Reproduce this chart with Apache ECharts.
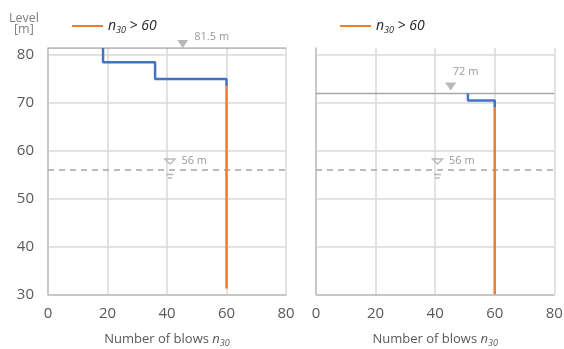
<!DOCTYPE html>
<html><head><meta charset="utf-8">
<script src="https://cdn.jsdelivr.net/npm/echarts@6/dist/echarts.min.js"></script>
<style>html,body{margin:0;padding:0;background:#fff}#c{width:564px;height:349px}</style>
</head><body><div id="c"></div>
<script>
// ---- data ----
const xMin = 0, xMax = 80, xStep = 20;
const yMin = 30, yMax = 81.5, yStep = 10;
const legendLabel = 'n30 > 60';

const leftStepX = [18.5, 18.5, 36, 36, 60, 60];
const leftStepY = [81.5, 78.5, 78.5, 75, 75, 73.5];
const leftOrangeX = [60, 60];
const leftOrangeY = [73.5, 31.2];

const rightStepX = [51, 51, 60, 60];
const rightStepY = [72, 70.5, 70.5, 69];
const rightOrangeX = [60, 60];
const rightOrangeY = [69, 30];

const groundLevels = [81.5, 72];
const groundLabels = ['81.5 m', '72 m'];
const groundMarkerX = [45.3, 45.2];
const waterLevel = 56;
const waterLabel = '56 m';
const waterMarkerX = [41, 40.8];

// ---- helpers ----
const zip = (xs, ys) => xs.map((x, i) => [x, ys[i]]);
const GRAY_TXT = '#595959';
const FONT = '"Open Sans", "DejaVu Sans", sans-serif';
const waterPath = 'path://M0,0 L10,0 L5,5 Z M1.5,15.5 L8.5,15.5 M3,19 L7,19';

const chart = echarts.init(document.getElementById('c'), null, {renderer: 'canvas'});

function xAxisCfg(gi) {
  return {
    type: 'value', gridIndex: gi, min: xMin, max: xMax, interval: xStep,
    axisLine: {show: true, lineStyle: {color: '#bfbfbf', width: 1.5}},
    axisTick: {show: false},
    axisLabel: {color: GRAY_TXT, fontSize: 15, margin: 12, fontFamily: FONT},
    splitLine: {show: true, lineStyle: {color: '#d9d9d9', width: 1.5}},
    name: '{a|Number of blows }{i|n}{s|30}',
    nameLocation: 'middle', nameGap: 36,
    nameTextStyle: {
      fontFamily: FONT,
      rich: {
        a: {fontSize: 13, color: GRAY_TXT, fontFamily: FONT, lineHeight: 18},
        i: {fontSize: 13, color: GRAY_TXT, fontStyle: 'italic', fontFamily: FONT, lineHeight: 18},
        s: {fontSize: 9, color: GRAY_TXT, fontStyle: 'italic', fontFamily: FONT, verticalAlign: 'bottom', lineHeight: 18}
      }
    }
  };
}
function yAxisCfg(gi, showLabels) {
  return {
    type: 'value', gridIndex: gi, min: yMin, max: yMax, interval: yStep,
    axisLine: {show: true, lineStyle: {color: '#bfbfbf', width: 1.5}},
    axisTick: {show: false},
    axisLabel: {show: showLabels, color: GRAY_TXT, fontSize: 15, margin: 14, fontFamily: FONT, showMaxLabel: false},
    splitLine: {show: true, showMaxLine: false, lineStyle: {color: '#d9d9d9', width: 1.5}}
  };
}
function legendCfg(left) {
  return {
    left: left, top: 14, itemWidth: 31, itemHeight: 2, icon: 'rect',
    data: [legendLabel], selectedMode: false,
    formatter: () => '{i|n}{s|30}{i| > 60}',
    textStyle: {
      rich: {
        i: {fontSize: 14, fontStyle: 'italic', color: '#262626', fontFamily: FONT, lineHeight: 18},
        s: {fontSize: 9, fontStyle: 'italic', color: '#262626', fontFamily: FONT, verticalAlign: 'bottom', lineHeight: 18}
      }
    }
  };
}
function lineSeries(gi, data, color, width, type, name, z) {
  return {
    type: 'line', name: name, xAxisIndex: gi, yAxisIndex: gi, data: data,
    showSymbol: false, symbol: 'none', silent: true, animation: false, z: z || 3,
    lineStyle: {color: color, width: width, type: type || 'solid'},
    itemStyle: {color: color}
  };
}
function groundMarker(gi, lblPos, lblOffset, symOffset) {
  return {
    type: 'scatter', xAxisIndex: gi, yAxisIndex: gi, silent: true, animation: false, z: 5,
    data: [[groundMarkerX[gi], groundLevels[gi]]],
    symbol: 'triangle', symbolRotate: 180, symbolSize: [11, 8], symbolOffset: symOffset,
    itemStyle: {color: '#a6a6a6'},
    label: {show: true, formatter: groundLabels[gi], position: lblPos, offset: lblOffset,
      color: '#7f7f7f', fontSize: 11, fontFamily: FONT}
  };
}
function waterMarker(gi) {
  return {
    type: 'scatter', xAxisIndex: gi, yAxisIndex: gi, silent: true, animation: false, z: 5,
    data: [[waterMarkerX[gi], waterLevel]],
    symbol: waterPath, symbolSize: [10, 19], symbolOffset: [0, -1.5],
    itemStyle: {color: '#ffffff', borderColor: '#a6a6a6', borderWidth: 1.2},
    label: {show: true, formatter: waterLabel, position: 'right', offset: [1, -8],
      color: '#7f7f7f', fontSize: 11, fontFamily: FONT}
  };
}

const option = {
  backgroundColor: '#ffffff',
  animation: false,
  textStyle: {fontFamily: FONT},
  grid: [
    {left: 48, top: 48, width: 238, height: 246.3, containLabel: false, outerBoundsMode: 'none'},
    {left: 316, top: 48, width: 238.3, height: 246.3, containLabel: false, outerBoundsMode: 'none'}
  ],
  xAxis: [xAxisCfg(0), xAxisCfg(1)],
  yAxis: [yAxisCfg(0, true), yAxisCfg(1, false)],
  legend: [legendCfg(67), legendCfg(335)],
  graphic: [
    {type: 'text', left: 9, top: 12, style: {text: 'Level', fill: '#7f7f7f', fontSize: 12.5, fontFamily: FONT}},
    {type: 'text', left: 14, top: 23, style: {text: '[m]', fill: '#7f7f7f', fontSize: 12.5, fontFamily: FONT}}
  ],
  series: [
    lineSeries(0, [[xMin, groundLevels[0]], [xMax, groundLevels[0]]], '#a6a6a6', 1.5, 'solid', 'g0', 2),
    lineSeries(1, [[xMin, groundLevels[1]], [xMax, groundLevels[1]]], '#a6a6a6', 1.5, 'solid', 'g1', 2),
    lineSeries(0, [[xMin, waterLevel], [xMax, waterLevel]], '#a6a6a6', 1.5, [6, 5], 'w0', 2),
    lineSeries(1, [[xMin, waterLevel], [xMax, waterLevel]], '#a6a6a6', 1.5, [6, 5], 'w1', 2),
    lineSeries(0, zip(leftStepX, leftStepY), '#4472c4', 2.5, 'solid', 'blue0', 4),
    lineSeries(1, zip(rightStepX, rightStepY), '#4472c4', 2.5, 'solid', 'blue1', 4),
    lineSeries(0, zip(leftOrangeX, leftOrangeY), '#ed7d31', 2.5, 'solid', legendLabel, 4),
    lineSeries(1, zip(rightOrangeX, rightOrangeY), '#ed7d31', 2.5, 'solid', legendLabel, 4),
    groundMarker(0, 'right', [1, -7], [0, -4]),
    groundMarker(1, 'top', [15, 0], [0, -7]),
    waterMarker(0),
    waterMarker(1)
  ]
};
chart.setOption(option);
</script></body></html>
